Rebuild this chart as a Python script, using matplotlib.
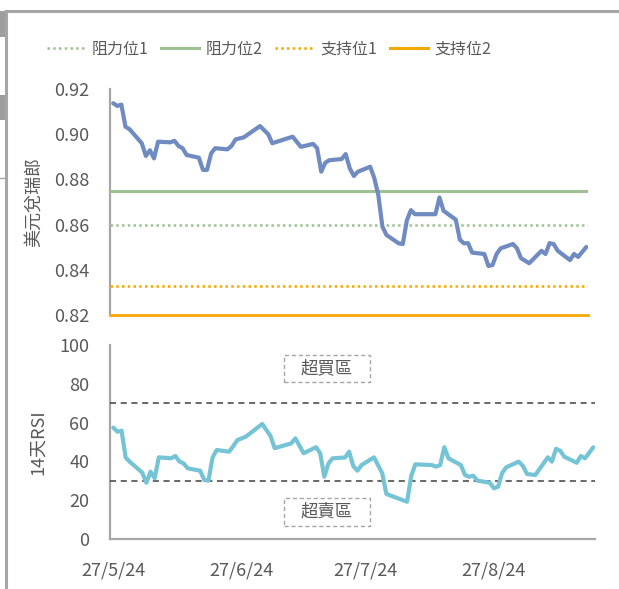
import matplotlib
matplotlib.use("Agg")
import matplotlib.pyplot as plt
from matplotlib.lines import Line2D
from matplotlib.patches import Rectangle
import pandas as pd

plt.rcParams['font.family'] = ['Noto Sans CJK TC', 'DejaVu Sans']

# ---------------- data ----------------
price_dates = [
    "2024-05-27", "2024-05-28", "2024-05-29", "2024-05-30", "2024-05-31",
    "2024-06-03", "2024-06-04", "2024-06-05", "2024-06-06", "2024-06-07",
    "2024-06-10", "2024-06-11", "2024-06-12", "2024-06-13", "2024-06-14",
    "2024-06-17", "2024-06-18", "2024-06-19", "2024-06-20", "2024-06-21",
    "2024-06-24", "2024-06-25", "2024-06-26", "2024-06-28",
    "2024-07-02", "2024-07-04", "2024-07-05", "2024-07-10", "2024-07-12",
    "2024-07-15", "2024-07-16", "2024-07-17", "2024-07-18", "2024-07-19",
    "2024-07-22", "2024-07-23", "2024-07-24", "2024-07-25", "2024-07-26",
    "2024-07-29", "2024-07-30", "2024-07-31", "2024-08-01", "2024-08-02",
    "2024-08-05", "2024-08-06", "2024-08-07", "2024-08-08", "2024-08-09",
    "2024-08-14", "2024-08-15", "2024-08-16",
    "2024-08-19", "2024-08-20", "2024-08-21", "2024-08-22", "2024-08-23",
    "2024-08-26", "2024-08-27", "2024-08-28", "2024-08-29", "2024-08-30",
    "2024-09-02", "2024-09-03", "2024-09-04", "2024-09-06",
    "2024-09-09", "2024-09-10", "2024-09-11", "2024-09-12", "2024-09-13",
    "2024-09-16", "2024-09-17", "2024-09-18", "2024-09-20",
]
price_values = [
    0.9137, 0.9125, 0.9131, 0.9033, 0.9022,
    0.8960, 0.8904, 0.8929, 0.8893, 0.8967,
    0.8964, 0.8971, 0.8948, 0.8938, 0.8908,
    0.8896, 0.8842, 0.8842, 0.8915, 0.8938,
    0.8933, 0.8948, 0.8977, 0.8986,
    0.9036, 0.9000, 0.8960, 0.8989, 0.8944,
    0.8957, 0.8938, 0.8834, 0.8874, 0.8885,
    0.8890, 0.8912, 0.8849, 0.8815, 0.8834,
    0.8856, 0.8807, 0.8731, 0.8591, 0.8554,
    0.8517, 0.8514, 0.8619, 0.8664, 0.8646,
    0.8646, 0.8720, 0.8661,
    0.8622, 0.8533, 0.8517, 0.8518, 0.8476,
    0.8470, 0.8417, 0.8421, 0.8470, 0.8495,
    0.8514, 0.8495, 0.8451, 0.8429,
    0.8484, 0.8470, 0.8518, 0.8514, 0.8484,
    0.8443, 0.8470, 0.8457, 0.8501,
]

rsi_dates = [
    "2024-05-27", "2024-05-28", "2024-05-29", "2024-05-30", "2024-05-31",
    "2024-06-03", "2024-06-04", "2024-06-05", "2024-06-06", "2024-06-07",
    "2024-06-10", "2024-06-11", "2024-06-12", "2024-06-13", "2024-06-14",
    "2024-06-17", "2024-06-18", "2024-06-19", "2024-06-20", "2024-06-21",
    "2024-06-24", "2024-06-25", "2024-06-26", "2024-06-28",
    "2024-07-02", "2024-07-04", "2024-07-05", "2024-07-09", "2024-07-10",
    "2024-07-12", "2024-07-15", "2024-07-16", "2024-07-17", "2024-07-18",
    "2024-07-19", "2024-07-22", "2024-07-23", "2024-07-24", "2024-07-25",
    "2024-07-26", "2024-07-29", "2024-07-31", "2024-08-01",
    "2024-08-06", "2024-08-07", "2024-08-08",
    "2024-08-12", "2024-08-13", "2024-08-14", "2024-08-15", "2024-08-16",
    "2024-08-19", "2024-08-20", "2024-08-21", "2024-08-22", "2024-08-23",
    "2024-08-26", "2024-08-27", "2024-08-28", "2024-08-29", "2024-08-30",
    "2024-09-02", "2024-09-03", "2024-09-04", "2024-09-06",
    "2024-09-09", "2024-09-10", "2024-09-11", "2024-09-12", "2024-09-13",
    "2024-09-16", "2024-09-17", "2024-09-18", "2024-09-20",
]
rsi_values = [
    57.4, 55.3, 55.8, 41.9, 39.8,
    34.2, 29.0, 34.7, 31.3, 42.1,
    41.6, 42.8, 39.9, 39.0, 36.4,
    35.2, 30.4, 30.1, 42.1, 45.9,
    45.0, 47.9, 51.0, 52.7,
    59.3, 53.1, 46.8, 49.3, 51.9,
    44.2, 47.3, 44.2, 32.1, 39.0,
    41.6, 42.0, 45.0, 37.6, 35.2,
    38.1, 42.1, 33.9, 23.2,
    19.2, 32.5, 38.5,
    38.1, 37.3, 38.1, 47.3, 41.6,
    38.1, 33.0, 32.1, 32.6, 30.1,
    29.0, 26.1, 27.0, 34.2, 37.0,
    39.9, 37.6, 33.5, 33.0,
    42.1, 39.9, 46.5, 45.5, 42.4,
    39.3, 42.8, 41.6, 47.3,
]

resist1 = 0.86
resist2 = 0.875
support1 = 0.833
support2 = 0.82
overbought = 70
oversold = 30

legend_labels = ["阻力位1", "阻力位2", "支持位1", "支持位2"]
price_label = "美元兌瑞郎"
rsi_label = "14天RSI"
zone_labels = ["超買區", "超賣區"]

xtick_dates = ["2024-05-27", "2024-06-27", "2024-07-27", "2024-08-27"]
xtick_labels = ["27/5/24", "27/6/24", "27/7/24", "27/8/24"]
price_ticks = [0.82, 0.84, 0.86, 0.88, 0.90, 0.92]
rsi_ticks = [0, 20, 40, 60, 80, 100]

# ---------------- styling ----------------
C_PRICE = "#6F8BC1"
C_RSI = "#74C4D6"
C_GREEN = "#9DC192"
C_ORANGE = "#F4A900"
C_TEXT = "#595959"
C_AXIS = "#A6A6A6"
C_DASH = "#404040"
DOT = (0, (1, 1.3))

pd_price = pd.to_datetime(price_dates)
pd_rsi = pd.to_datetime(rsi_dates)
xt = pd.to_datetime(xtick_dates)
xmin = pd.Timestamp("2024-05-27") - pd.Timedelta(hours=19)
xmax = pd.Timestamp("2024-09-20") + pd.Timedelta(hours=10)

W, H = 619, 589
fig = plt.figure(figsize=(W / 100, H / 100), dpi=100)
fig.patch.set_facecolor("white")

def fx(px):
    return px / W

def fy(py):
    return 1 - py / H

# ---- top panel ----
ax1 = fig.add_axes([fx(110), fy(315), fx(588) - fx(110), fy(89) - fy(315)])
ax1.plot(pd_price, price_values, color=C_PRICE, lw=3.0, solid_joinstyle="round",
         solid_capstyle="round", zorder=5)
ax1.axhline(resist1, color=C_GREEN, lw=1.8, ls=DOT, zorder=3)
ax1.axhline(resist2, color=C_GREEN, lw=2.2, zorder=3)
ax1.axhline(support1, color=C_ORANGE, lw=1.8, ls=DOT, zorder=3)
ax1.axhline(support2, color=C_ORANGE, lw=2.0, zorder=3, clip_on=False)
ax1.set_ylim(0.82, 0.92)
ax1.set_xlim(xmin, xmax)
ax1.set_yticks(price_ticks)
ax1.set_yticklabels([f"{v:.2f}" for v in price_ticks])
ax1.set_xticks([])
for s in ["top", "right", "bottom"]:
    ax1.spines[s].set_visible(False)
ax1.spines["left"].set_color(C_AXIS)
ax1.spines["left"].set_linewidth(1.6)
ax1.tick_params(axis="y", length=0, pad=15, labelsize=13, labelcolor=C_TEXT)
ax1.set_ylabel(price_label, fontsize=13, color=C_TEXT)
ax1.patch.set_alpha(0)

# ---- bottom panel ----
ax2 = fig.add_axes([fx(110), fy(539), fx(595) - fx(110), fy(345) - fy(539)])
ax2.plot(pd_rsi, rsi_values, color=C_RSI, lw=3.0, solid_joinstyle="round",
         solid_capstyle="round", zorder=5)
ax2.axhline(overbought, color=C_DASH, lw=1.1, ls=(0, (4, 3)), zorder=3)
ax2.axhline(oversold, color=C_DASH, lw=1.1, ls=(0, (4, 3)), zorder=3)
ax2.set_ylim(0, 100)
ax2.set_xlim(xmin, xmax)
ax2.set_yticks(rsi_ticks)
ax2.set_xticks(xt)
ax2.set_xticklabels(xtick_labels)
for s in ["top", "right"]:
    ax2.spines[s].set_visible(False)
for s in ["left", "bottom"]:
    ax2.spines[s].set_color(C_AXIS)
    ax2.spines[s].set_linewidth(1.6)
ax2.tick_params(axis="y", length=0, pad=15, labelsize=13, labelcolor=C_TEXT)
ax2.tick_params(axis="x", length=0, pad=16, labelsize=13, labelcolor=C_TEXT)
ax2.set_ylabel(rsi_label, fontsize=13, color=C_TEXT)
ax2.patch.set_alpha(0)

# zone boxes (dashed frames) + labels
aw2 = 595 - 110
ah2 = 539 - 345
for label, (top_px, bot_px) in zip(zone_labels, [(355, 382), (498, 526)]):
    rx0 = (284 - 110) / aw2
    rw = (370 - 284) / aw2
    ry0 = (539 - bot_px) / ah2
    rh = (bot_px - top_px) / ah2
    ax2.add_patch(Rectangle((rx0, ry0), rw, rh, transform=ax2.transAxes, fc="white",
                            ec=C_AXIS, lw=1.0, ls=(0, (3, 2)), zorder=6))
    ax2.text(rx0 + rw / 2, ry0 + rh / 2, label, transform=ax2.transAxes, ha="center",
             va="center", fontsize=12.5, color=C_TEXT, zorder=7)

# align y labels (x = right edge of rotated label)
ax1.yaxis.set_label_coords((44 - 110) / (588 - 110), 0.5)
ax2.yaxis.set_label_coords((47 - 110) / (595 - 110), 0.5)

# ---- legend ----
handles = [
    Line2D([], [], color=C_GREEN, lw=1.8, ls=DOT),
    Line2D([], [], color=C_GREEN, lw=2.2),
    Line2D([], [], color=C_ORANGE, lw=1.8, ls=DOT),
    Line2D([], [], color=C_ORANGE, lw=2.2),
]
fig.legend(handles, legend_labels, loc="center", bbox_to_anchor=(fx(269), fy(49)),
           ncol=4, frameon=False, fontsize=11.5, handlelength=2.4,
           handletextpad=0.4, columnspacing=0.8, labelcolor=C_TEXT)

# ---- outer frame artefacts ----
fig.add_artist(Line2D([fx(5.7), fx(619)], [fy(11), fy(11)], color=C_AXIS, lw=2.2))
fig.add_artist(Line2D([fx(5.7), fx(5.7)], [fy(11), fy(589)], color=C_AXIS, lw=2.2))
fig.add_artist(Rectangle((0, fy(37)), fx(5), fy(11) - fy(37), color="#9E9E9E", lw=0))
fig.add_artist(Rectangle((0, fy(120)), fx(5), fy(95) - fy(120), color="#9E9E9E", lw=0))
fig.add_artist(Line2D([0, fx(5)], [fy(178), fy(178)], color=C_AXIS, lw=1.0))

fig.savefig("out.png", dpi=100, facecolor="white")
